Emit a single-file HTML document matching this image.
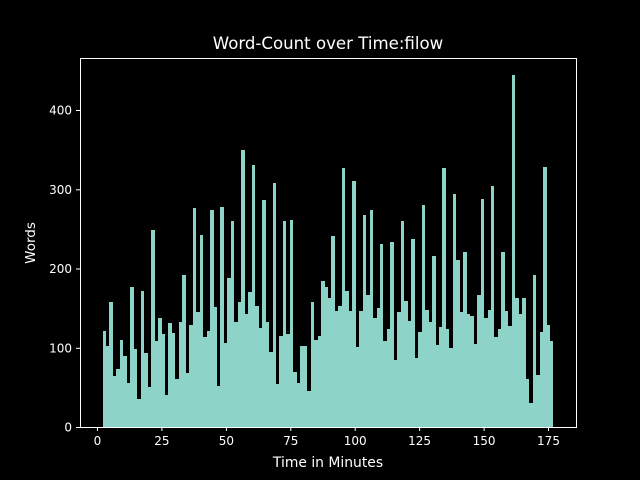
<!DOCTYPE html>
<html><head><meta charset="utf-8"><style>
html,body{margin:0;padding:0;background:#000;}
svg{display:block;}
text{font-family:"DejaVu Sans","Liberation Sans",sans-serif;fill:#fff;}
</style></head><body>
<svg width="640" height="480" viewBox="0 0 640 480" xmlns="http://www.w3.org/2000/svg">
<rect width="640" height="480" fill="#000"/>
<path fill="#8dd3c7" d="M103 427 V331 H106 V346 H109 V302 H113 V376 H116 V369 H120 V340 H123 V356 H127 V383 H130 V287 H134 V349 H137 V399 H141 V291 H144 V353 H148 V387 H151 V230 H155 V341 H158 V318 H162 V334 H165 V395 H168 V323 H172 V333 H175 V379 H179 V322 H182 V275 H186 V373 H189 V325 H193 V208 H196 V312 H200 V235 H203 V337 H207 V331 H210 V210 H214 V307 H217 V386 H220 V207 H224 V343 H227 V278 H231 V221 H234 V322 H238 V302 H241 V150 H245 V314 H248 V292 H252 V165 H255 V306 H259 V328 H262 V200 H266 V322 H269 V352 H273 V183 H276 V384 H279 V336 H283 V221 H286 V334 H290 V220 H293 V372 H297 V383 H300 V346 H307 V391 H311 V302 H314 V340 H318 V336 H321 V281 H325 V287 H328 V298 H331 V236 H335 V311 H338 V306 H342 V168 H345 V291 H349 V311 H352 V181 H356 V347 H359 V311 H363 V215 H366 V295 H370 V210 H373 V318 H377 V308 H380 V244 H383 V341 H387 V329 H390 V242 H394 V360 H397 V312 H401 V221 H404 V301 H408 V321 H411 V239 H415 V358 H418 V332 H422 V205 H425 V310 H429 V322 H432 V256 H436 V345 H439 V327 H442 V168 H446 V329 H449 V348 H453 V194 H456 V260 H460 V312 H463 V252 H467 V314 H470 V316 H474 V344 H477 V295 H481 V199 H484 V318 H488 V310 H491 V186 H494 V337 H498 V329 H501 V252 H505 V311 H508 V326 H512 V75 H515 V298 H519 V314 H522 V298 H526 V379 H529 V403 H533 V275 H536 V375 H540 V332 H543 V167 H547 V325 H550 V341 H553 V427 Z"/>
<rect x="80.5" y="58.5" width="496" height="369" fill="none" stroke="#fff" stroke-width="1"/>
<g stroke="#fff" stroke-width="1">
<line x1="97.5" y1="427" x2="97.5" y2="431"/>
<line x1="161.9" y1="427" x2="161.9" y2="431"/>
<line x1="226.4" y1="427" x2="226.4" y2="431"/>
<line x1="290.8" y1="427" x2="290.8" y2="431"/>
<line x1="355.2" y1="427" x2="355.2" y2="431"/>
<line x1="419.6" y1="427" x2="419.6" y2="431"/>
<line x1="484.1" y1="427" x2="484.1" y2="431"/>
<line x1="548.5" y1="427" x2="548.5" y2="431"/>
<line x1="76" y1="427.5" x2="80" y2="427.5"/>
<line x1="76" y1="348.3" x2="80" y2="348.3"/>
<line x1="76" y1="269" x2="80" y2="269"/>
<line x1="76" y1="189.8" x2="80" y2="189.8"/>
<line x1="76" y1="110.5" x2="80" y2="110.5"/>
</g>
<g font-size="12" text-anchor="middle">
<text x="97.5" y="445">0</text>
<text x="161.9" y="445">25</text>
<text x="226.4" y="445">50</text>
<text x="290.8" y="445">75</text>
<text x="355.2" y="445">100</text>
<text x="419.6" y="445">125</text>
<text x="484.1" y="445">150</text>
<text x="548.5" y="445">175</text>
</g>
<g font-size="12" text-anchor="end">
<text x="72" y="431.5">0</text>
<text x="72" y="352.5">100</text>
<text x="72" y="273">200</text>
<text x="72" y="194">300</text>
<text x="72" y="114.5">400</text>
</g>
<text x="328" y="467" font-size="13.9" text-anchor="middle">Time in Minutes</text>
<text x="0" y="0" font-size="13.5" text-anchor="middle" transform="translate(35 243) rotate(-90)">Words</text>
<text x="328" y="49" font-size="16.6" text-anchor="middle">Word-Count over Time:filow</text>
</svg>
</body></html>
